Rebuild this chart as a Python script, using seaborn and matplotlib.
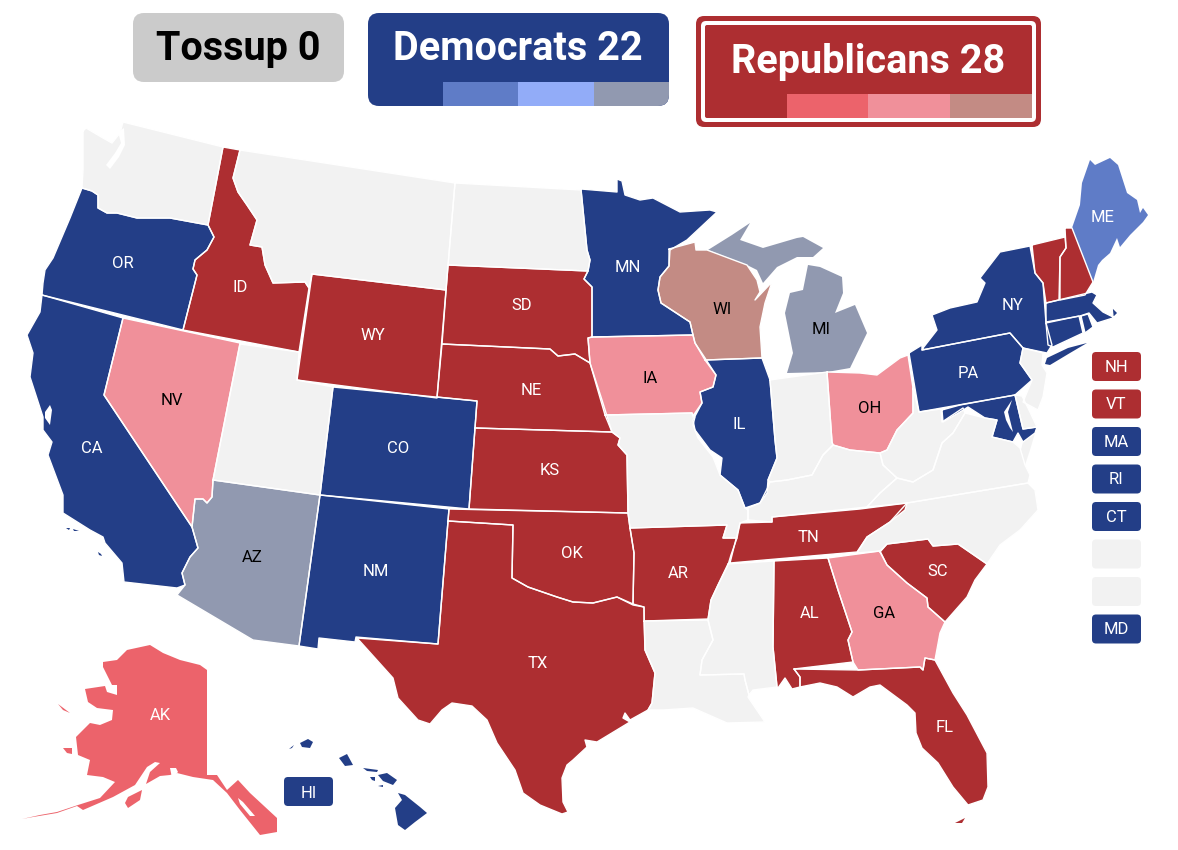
import pandas as pd
import seaborn as sns
import matplotlib.pyplot as plt
from matplotlib.patches import FancyBboxPatch, Rectangle

DEM = '#233e87'
REP = '#ad2e31'
DEM_SHADES = ['#5f7cc7', '#92acf8', '#9199b0']
REP_SHADES = ['#ec636b', '#f0909a', '#c38b84']
NONE = '#f2f2f2'
TOSSUP = '#cbcbcb'

# state outlines in pixels
WA = [(83,131),(86,128),(103,138),(112,143),(120,133),(123,122),(223,147),(208,225),(170,218),(137,218),(117,213),(107,213),(98,208),(98,195),(92,191),(82,188),(83,170)]
PUGET = [(118,132),(124,128),(125,145),(119,157),(110,169),(106,165),(115,153),(121,143)]
OR = [(82,188),(92,191),(98,195),(98,208),(107,213),(117,213),(137,218),(170,218),(208,225),(214,237),(207,250),(195,260),(193,269),(197,275),(183,330),(42,295),(43,283),(45,270),(53,258),(70,218)]
ID = [(223,147),(240,150),(233,178),(238,192),(247,205),(257,220),(250,245),(262,247),(265,265),(273,283),(305,282),(309,288),(299,352),(183,330),(197,275),(193,269),(195,260),(207,250),(214,237),(208,225)]
MT = [(240,150),(455,183),(446,290),(312,274),(309,288),(305,282),(273,283),(265,265),(262,247),(250,245),(257,220),(247,205),(238,192),(233,178)]
WY = [(312,274),(446,290),(437,398),(297,380)]
ND = [(455,183),(581,190),(587,250),(590,260),(588,271),(448,265)]
SD = [(448,265),(588,271),(584,279),(592,287),(592,337),(588,338),(590,363),(575,354),(558,356),(550,349),(442,344)]
NE = [(442,344),(550,349),(558,356),(575,354),(590,363),(602,400),(612,432),(475,428),(477,401),(437,397)]
CO = [(333,387),(477,401),(469,509),(320,495)]
UT = [(240,344),(299,352),(297,380),(333,387),(320,495),(213,480)]
NV = [(123,318),(240,343),(213,480),(212,497),(207,503),(203,499),(195,499),(192,527),(104,395)]
CA = [(42,295),(123,318),(104,395),(192,527),(198,548),(190,557),(182,573),(185,585),(177,588),(124,582),(122,563),(105,543),(103,537),(90,530),(63,513),(63,495),(48,455),(52,442),(43,430),(43,417),(30,377),(33,353),(27,335),(40,312)]
SF_BAY = [(45,412),(50,405),(52,410),(50,425),(45,418)]
CA_ISL1 = [(66,528),(70,528),(69,530)]
CA_ISL2 = [(73,529),(79,531),(74,531)]
CA_ISL3 = [(98,552),(101,554),(102,556),(99,555)]
AZ = [(213,480),(320,495),(299,646),(253,640),(177,595),(185,585),(182,573),(190,557),(198,548),(192,527),(195,499),(203,499),(207,503),(212,497)]
NM = [(320,495),(449,509),(438,644),(356,637),(355,642),(319,638),(318,649),(299,646)]
TX = [(448,521),(513,525),(512,578),(528,587),(557,597),(573,602),(593,603),(617,597),(633,605),(644,607),(645,650),(655,673),(652,703),(648,710),(630,720),(625,713),(623,718),(630,722),(597,742),(585,740),(587,747),(573,760),(567,765),(562,778),(563,802),(568,812),(562,814),(540,805),(523,793),(515,770),(497,743),(487,720),(472,706),(452,703),(442,710),(430,724),(418,720),(398,698),(393,678),(357,638),(438,644)]
OK = [(449,509),(628,513),(630,528),(634,553),(633,604),(617,597),(593,603),(573,602),(557,597),(528,587),(512,578),(513,525),(448,521)]
KS = [(475,428),(612,432),(620,438),(618,445),(627,455),(628,513),(469,509)]
AR = [(630,528),(727,525),(723,538),(737,538),(731,555),(728,565),(718,585),(711,600),(708,619),(644,621),(644,607),(633,604),(634,553)]
LA = [(644,621),(708,620),(713,640),(702,660),(700,675),(744,674),(745,680),(749,695),(748,697),(765,722),(727,723),(693,708),(663,710),(648,710),(652,703),(655,673),(645,650)]
MS = [(728,564),(774,561),(773,647),(777,687),(753,690),(749,695),(745,680),(744,674),(700,675),(702,660),(713,640),(708,620),(711,600),(718,585)]
AL = [(774,561),(828,558),(838,590),(852,632),(848,640),(853,662),(794,669),(800,677),(800,687),(792,689),(785,678),(778,688),(777,687),(773,647)]
GA = [(828,558),(880,551),(887,565),(907,583),(927,598),(928,607),(945,622),(940,633),(935,660),(925,658),(923,670),(920,667),(858,670),(853,662),(848,640),(852,632),(838,590)]
SC = [(880,552),(887,544),(928,539),(933,546),(958,544),(987,564),(975,580),(967,597),(945,622),(928,607),(927,598),(907,583),(887,565)]
NC = [(907,503),(1028,483),(1035,490),(1038,510),(1020,530),(1000,545),(987,564),(958,544),(933,546),(928,539),(887,544),(880,551),(857,553),(867,537),(890,522)]
TN = [(730,563),(740,523),(772,522),(772,517),(860,509),(907,503),(905,510),(890,522),(867,537),(857,552)]
KY = [(748,520),(748,508),(760,503),(768,487),(770,482),(787,480),(812,475),(823,455),(833,445),(850,450),(880,453),(883,465),(897,478),(880,493),(867,507),(772,517),(772,522)]
MO = [(605,415),(692,413),(695,417),(693,425),(698,438),(713,457),(720,475),(738,490),(745,508),(748,510),(748,520),(740,523),(737,538),(723,538),(727,525),(630,528),(628,513),(627,455),(618,445),(620,438),(612,432)]
IL = [(705,360),(762,358),(770,380),(775,440),(777,458),(768,480),(767,493),(760,503),(745,508),(738,490),(720,475),(722,458),(710,450),(695,430),(693,420),(702,403),(700,392),(713,387),(716,375)]
IA = [(592,337),(693,335),(695,343),(705,358),(716,375),(713,387),(700,392),(702,403),(695,413),(693,417),(692,413),(605,415),(590,363),(588,338)]
MN = [(581,189),(617,192),(617,179),(622,181),(625,195),(640,200),(653,198),(680,212),(710,210),(717,212),(687,240),(670,250),(669,266),(660,277),(658,290),(661,303),(690,322),(693,335),(592,337),(592,287),(584,279),(588,271),(590,260),(587,250)]
WI = [(669,249),(695,242),(696,250),(707,250),(747,265),(757,280),(760,292),(755,300),(772,282),(765,303),(760,327),(762,358),(705,360),(695,343),(693,335),(690,322),(661,303),(658,290),(660,277),(669,266)]
MI_U = [(708,250),(732,235),(750,223),(740,240),(763,248),(797,238),(803,237),(823,248),(813,257),(797,257),(777,267),(763,283),(757,270),(747,265)]
MI_L = [(787,373),(793,353),(785,313),(790,293),(803,290),(808,265),(820,267),(842,277),(843,293),(835,313),(855,305),(867,333),(850,368),(827,372)]
IN = [(770,380),(827,372),(832,442),(833,445),(823,455),(812,475),(787,480),(770,482),(768,480),(777,458),(775,440)]
OH = [(827,372),(860,373),(877,375),(900,358),(908,355),(913,388),(913,413),(897,430),(887,450),(880,453),(850,450),(833,445),(832,442)]
WV = [(913,388),(919,412),(941,409),(942,422),(963,408),(965,413),(953,433),(942,443),(933,470),(913,482),(897,478),(883,465),(880,453),(887,450),(897,430),(913,413)]
VA = [(867,507),(880,493),(897,478),(913,482),(933,470),(942,443),(953,433),(965,413),(985,418),(997,420),(992,437),(1013,442),(1020,448),(1025,465),(1030,475),(1028,483),(907,503)]
VA_SHORE = [(1023,442),(1035,433),(1030,450),(1025,465),(1021,450)]
MD = [(942,410),(960,405),(1015,395),(1023,429),(1037,427),(1035,433),(1023,442),(1018,433),(1013,442),(992,437),(997,420),(985,418),(968,407),(960,412),(943,422)]
BAY = [(1012,400),(1004,412),(1006,420),(1010,428),(1013,432),(1010,420),(1008,412)]
DE = [(1015,395),(1022,396),(1029,410),(1037,427),(1023,429)]
NJ = [(1023,348),(1043,353),(1042,365),(1047,373),(1043,397),(1038,410),(1023,402),(1032,380),(1020,363)]
PA = [(909,353),(922,345),(922,350),(1010,333),(1023,348),(1020,363),(1032,380),(1015,395),(919,412)]
NY = [(923,348),(937,330),(932,315),(950,308),(977,302),(985,283),(980,278),(1000,252),(1030,246),(1035,273),(1043,283),(1046,323),(1052,345),(1047,353),(1023,348),(1010,333),(922,350)]
NY_LI = [(1045,364),(1047,358),(1068,348),(1087,343),(1070,353),(1050,365)]
VT = [(1032,245),(1065,237),(1066,248),(1060,257),(1059,300),(1046,303),(1043,283),(1035,273)]
NH = [(1065,228),(1072,228),(1093,282),(1085,295),(1060,300),(1060,257),(1066,248)]
ME = [(1072,228),(1080,205),(1082,183),(1090,160),(1095,165),(1110,158),(1118,165),(1127,193),(1137,200),(1140,213),(1143,208),(1148,215),(1143,222),(1130,235),(1120,247),(1117,238),(1110,253),(1102,260),(1098,265),(1093,282)]
MA = [(1046,303),(1092,292),(1097,295),(1093,303),(1103,312),(1113,317),(1112,307),(1118,313),(1113,318),(1097,323),(1089,313),(1080,316),(1046,322)]
CT = [(1046,323),(1079,316),(1083,333),(1053,347),(1048,345)]
RI = [(1081,316),(1088,314),(1093,327),(1085,333)]
FL = [(794,669),(858,670),(920,667),(923,670),(925,658),(935,660),(953,693),(967,715),(987,753),(988,787),(983,800),(968,805),(953,787),(938,763),(922,748),(916,733),(915,713),(907,705),(880,685),(870,687),(853,697),(837,687),(820,683),(800,687),(800,677)]
FL_KEYS = [(955,823),(965,818),(962,823)]
AK = [(103,662),(117,660),(127,650),(150,645),(163,653),(180,660),(200,665),(207,670),(207,775),(217,775),(227,790),(238,780),(250,793),(277,818),(277,832),(260,835),(240,810),(227,793),(213,780),(193,777),(177,773),(170,775),(160,776),(146,784),(150,772),(160,763),(155,762),(147,767),(135,785),(113,797),(83,810),(77,806),(57,813),(33,817),(22,819),(40,815),(57,812),(78,805),(100,798),(115,782),(103,777),(87,775),(90,760),(78,755),(76,737),(90,723),(100,725),(112,720),(113,710),(97,708),(88,702),(85,689),(105,686),(107,692),(117,695),(117,685),(112,685),(103,667)]
AK_SOUND = [(170,768),(176,768),(178,772),(172,778)]
AK_INLET = [(238,798),(243,802),(255,816),(250,816),(240,804)]
AK_KODIAK = [(125,803),(128,797),(142,790),(140,800),(128,808)]
AK_STL = [(58,704),(70,713),(63,710)]
AK_NUN = [(63,748),(72,748),(72,754),(67,753)]
HI_1 = [(300,743),(308,739),(313,742),(310,748),(302,747)]
HI_2 = [(289,749),(294,745),(292,748)]
HI_3 = [(339,758),(347,754),(353,765),(345,766)]
HI_4 = [(363,768),(378,770),(377,772),(367,771)]
HI_5 = [(370,777),(375,777),(375,781),(372,780)]
HI_6 = [(378,775),(387,773),(397,780),(393,785),(383,781)]
HI_7 = [(378,786),(383,785),(383,787)]
HI_8 = [(398,793),(405,795),(420,807),(427,813),(415,822),(405,830),(398,825),(395,808),(402,800)]

shapes = {
    NONE: [WA, MT, ND, UT, MO, LA, MS, KY, IN, WV, VA, VA_SHORE, NC, DE, NJ],
    DEM: [OR, CA, CO, NM, MN, IL, PA, NY, NY_LI, MD, MA, CT, RI, CA_ISL1, CA_ISL2, CA_ISL3,
          HI_1, HI_2, HI_3, HI_4, HI_5, HI_6, HI_7, HI_8],
    REP: [ID, WY, SD, NE, KS, OK, TX, AR, TN, AL, SC, FL, FL_KEYS, VT, NH],
    DEM_SHADES[0]: [ME],
    DEM_SHADES[2]: [AZ, MI_U, MI_L],
    REP_SHADES[0]: [AK, AK_KODIAK, AK_STL, AK_NUN],
    REP_SHADES[1]: [NV, IA, OH, GA],
    REP_SHADES[2]: [WI],
}
no_border = [NY_LI, CA_ISL1, CA_ISL2, CA_ISL3, VA_SHORE, HI_1, HI_2, HI_3, HI_4, HI_5, HI_6, HI_7, HI_8,
             FL_KEYS, AK, AK_KODIAK, AK_STL, AK_NUN, MI_U, MI_L, ME]
water = [PUGET, SF_BAY, BAY, AK_SOUND, AK_INLET]

abbr = ['OR', 'ID', 'WY', 'SD', 'MN', 'NV', 'CA', 'CO', 'AZ', 'NM', 'NE', 'KS', 'IA', 'IL', 'WI', 'MI', 'OH', 'PA', 'NY', 'ME', 'TX', 'OK', 'AR', 'TN', 'AL', 'GA', 'SC', 'FL', 'AK']
label_x = [123, 240, 373, 522, 628, 172, 92, 398, 252, 376, 531, 550, 650, 739, 722, 821, 870, 968, 1013, 1103, 538, 572, 678, 808, 810, 884, 938, 945, 160]
label_y = [263, 287, 335, 306, 267, 400, 448, 448, 558, 572, 390, 470, 378, 424, 310, 329, 408, 373, 305, 217, 664, 553, 573, 537, 614, 613, 572, 727, 716]
dark_labels = ['NV', 'AZ', 'IA', 'WI', 'MI', 'OH', 'GA']

small_states = ['NH', 'VT', 'MA', 'RI', 'CT', '', '', 'MD']
small_colors = [REP, REP, DEM, DEM, DEM, NONE, NONE, DEM]

sns.set_theme(style='white')
plt.rcParams['font.family'] = ['Roboto', 'DejaVu Sans']

fig, ax = plt.subplots(figsize=(11.78, 8.5), dpi=100)
fig.subplots_adjust(0, 0, 1, 1)

# fills first, then white borders on top with seaborn
rows = []
n = 0
for color, polys in shapes.items():
    for poly in polys:
        ax.fill([p[0] for p in poly], [p[1] for p in poly], color=color, lw=0, zorder=1)
        if not any(poly is q for q in no_border):
            n += 1
            rows += [{'shape': n, 'x': p[0], 'y': p[1]} for p in poly + [poly[0]]]
for poly in water:
    ax.fill([p[0] for p in poly], [p[1] for p in poly], color='white', lw=0, zorder=2)

border = pd.DataFrame(rows)
sns.lineplot(data=border, x='x', y='y', units='shape', estimator=None, sort=False,
             color='white', lw=1.0, ax=ax, zorder=3, legend=False)
ax.set_xlim(0, 1178)
ax.set_ylim(850, 0)
ax.axis('off')

for s, x, y in zip(abbr, label_x, label_y):
    ax.text(x, y, s, ha='center', va='center', fontsize=12, zorder=5,
            color='black' if s in dark_labels else 'white')


def rbox(x0, y0, x1, y1, color, r=9, z=6, **kw):
    p = FancyBboxPatch((x0 + r, y0 + r), x1 - x0 - 2 * r, y1 - y0 - 2 * r,
                       boxstyle='round,pad=%d,rounding_size=%d' % (r, r),
                       fc=color, ec='none', zorder=z, **kw)
    ax.add_patch(p)
    return p


# top totals
rbox(133, 13, 344, 82, TOSSUP, r=11)
ax.text(238, 49, 'Tossup 0', ha='center', va='center', fontsize=28.5, fontweight='bold', color='black', zorder=8)

box = rbox(368, 13, 669, 106, DEM, r=11)
for x0, x1, c in zip([443, 518, 594], [518, 594, 669], DEM_SHADES):
    r = Rectangle((x0, 82), x1 - x0, 24, fc=c, ec='none', zorder=7)
    ax.add_patch(r)
    r.set_clip_path(box)
ax.text(518, 49, 'Democrats 22', ha='center', va='center', fontsize=28.5, fontweight='bold', color='white', zorder=8)

rbox(696, 16, 1041, 127, REP, r=8)
rbox(701, 21, 1036, 122, 'white', r=5, z=6.2)
rbox(705, 25, 1032, 118, REP, r=2, z=6.4)
for x0, x1, c in zip([787, 868, 950], [868, 950, 1032], REP_SHADES):
    ax.add_patch(Rectangle((x0, 94), x1 - x0, 24, fc=c, ec='none', zorder=7))
ax.text(868, 62, 'Republicans 28', ha='center', va='center', fontsize=28.5, fontweight='bold', color='white', zorder=8)

# boxes for the small states
for i, (s, c) in enumerate(zip(small_states, small_colors)):
    y0 = 352 + i * 37.5
    rbox(1092, y0, 1141, y0 + 29, c, r=4)
    ax.text(1116.5, y0 + 15, s, ha='center', va='center', fontsize=12, color='white', zorder=8)
rbox(284, 777, 333, 806, DEM, r=4)
ax.text(308.5, 793, 'HI', ha='center', va='center', fontsize=12, color='white', zorder=8)

plt.savefig('out.png', dpi=100)
plt.close()
